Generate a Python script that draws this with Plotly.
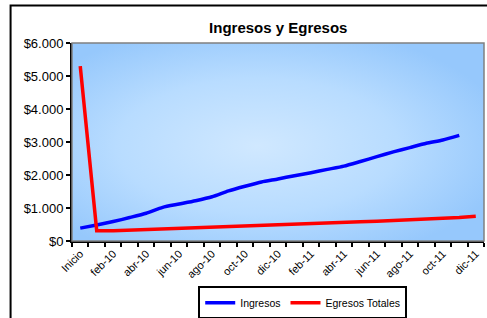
import base64
import plotly.graph_objects as go

categories = ["Inicio",
              "ene-10", "feb-10", "mar-10", "abr-10", "may-10", "jun-10",
              "jul-10", "ago-10", "sep-10", "oct-10", "nov-10", "dic-10",
              "ene-11", "feb-11", "mar-11", "abr-11", "may-11", "jun-11",
              "jul-11", "ago-11", "sep-11", "oct-11", "nov-11", "dic-11"]

ingresos = [390, 485, 590, 710, 840, 1020, 1120, 1220, 1340, 1520, 1660, 1790, 1880,
            1980, 2070, 2170, 2270, 2410, 2555, 2700, 2830, 2960, 3060, 3200, None]

egresos = [5300, 310, 310, 330, 340, 360, 380, 400, 410, 430, 450, 470, 490,
           510, 530, 550, 570, 585, 600, 620, 640, 660, 690, 710, 750]

tick_labels = [c if i % 2 == 0 else "" for i, c in enumerate(categories)]

W, H = 487, 318
L, R, T, B = 72, 2.5, 43, 77
pw, ph = W - L - R, H - T - B

svg = ('<svg xmlns="http://www.w3.org/2000/svg" width="400" height="200" viewBox="0 0 400 200" '
       'preserveAspectRatio="none"><defs><radialGradient id="g" cx="0.45" cy="0.52" r="0.62">'
       '<stop offset="0" stop-color="#d0e8ff"/><stop offset="0.55" stop-color="#b8dcff"/>'
       '<stop offset="1" stop-color="#96c8fc"/></radialGradient></defs>'
       '<rect x="0" y="0" width="400" height="200" fill="url(#g)"/></svg>')
src = "data:image/svg+xml;base64," + base64.b64encode(svg.encode()).decode()

fig = go.Figure()
fig.add_trace(go.Scatter(x=categories, y=ingresos, mode="lines", name="Ingresos",
                         line=dict(color="#0000FF", width=3.5, shape="spline", smoothing=0.6)))
fig.add_trace(go.Scatter(x=categories, y=egresos, mode="lines", name="Egresos Totales",
                         line=dict(color="#FF0000", width=3.5)))

font = "Liberation Sans, Arial, sans-serif"
fig.update_layout(
    width=W, height=H,
    margin=dict(l=L, r=R, t=T, b=B, autoexpand=False),
    paper_bgcolor="white",
    plot_bgcolor="#a8d2ff",
    separators=",.",
    font=dict(family=font, size=11, color="black"),
    title=dict(text="<b>Ingresos y Egresos</b>", font=dict(size=15, family=font, color="black"),
               x=(L + pw / 2) / W, xanchor="center", y=1 - 28 / H, yanchor="middle",
               xref="container", yref="container"),
    showlegend=True,
    legend=dict(orientation="h", x=0.56, xanchor="center", y=-0.228, yanchor="top",
                bgcolor="white", bordercolor="black", borderwidth=2,
                font=dict(size=10.5, family=font), itemwidth=30, tracegroupgap=0),
    images=[dict(source=src, xref="paper", yref="paper", x=0, y=1, sizex=1, sizey=1,
                 sizing="stretch", layer="below", xanchor="left", yanchor="top")],
    shapes=[
        dict(type="rect", xref="paper", yref="paper", x0=0, x1=1, y0=0, y1=1,
             line=dict(color="#808080", width=1.5), layer="above"),
        dict(type="rect", xref="paper", yref="paper",
             x0=(10.5 - L) / pw, x1=1.3, y0=-0.6, y1=(T + ph - 5.5) / ph,
             line=dict(color="black", width=2), layer="above"),
    ],
)

fig.update_xaxes(type="category", categoryorder="array", categoryarray=categories,
                 range=[-0.5, len(categories) - 0.5],
                 tickmode="array", tickvals=categories, ticktext=tick_labels,
                 tickson="boundaries", ticks="outside", ticklen=4, tickwidth=1.5,
                 tickcolor="black", tickangle=-45, showgrid=False, automargin=False,
                 showline=True, linecolor="black", linewidth=2,
                 tickfont=dict(size=11, family=font, color="black"), zeroline=False)
fig.update_yaxes(range=[0, 6000], dtick=1000, tick0=0, tickprefix="$", tickformat=",d",
                 ticks="outside", ticklen=4, tickwidth=1.5, tickcolor="black", automargin=False,
                 showgrid=False, showline=True, linecolor="black", linewidth=2,
                 tickfont=dict(size=13, family=font, color="black"), zeroline=False)

fig.write_html("out.html", config={"displayModeBar": False},
               post_script="document.body.style.margin='0';document.body.style.overflow='hidden';")
